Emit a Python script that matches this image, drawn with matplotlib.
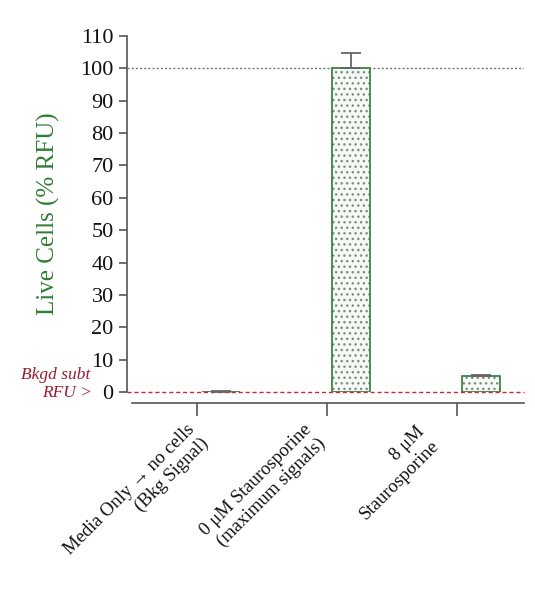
import numpy as np
import matplotlib
matplotlib.use('Agg')
import matplotlib.pyplot as plt
from matplotlib.transforms import offset_copy

plt.rcParams['font.family'] = ['Liberation Serif', 'DejaVu Serif']
plt.rcParams['hatch.linewidth'] = 1.0

labels = ['Media Only \u2192 no cells\n(Bkg Signal)',
          '0 \u03bcM Staurosporine\n(maximum signals)',
          '8 \u03bcM\nStaurosporine']
values = [0.1, 100.0, 4.9]
errors = [0.2, 4.8, 0.4]

green = '#2f7d32'
axis_gray = '#555555'

fig = plt.figure(figsize=(5.35, 6), dpi=100)
ax = fig.add_axes([0.237, 0.3467, 0.743, 0.5933])

# spines first: set_position resets the ticks
for s in ['top', 'right']:
    ax.spines[s].set_visible(False)
ax.spines['left'].set_color(axis_gray)
ax.spines['left'].set_linewidth(1.2)
ax.spines['bottom'].set_color(axis_gray)
ax.spines['bottom'].set_linewidth(1.2)
ax.spines['bottom'].set_position(('outward', 8))

x = np.arange(len(labels))
bx = x + 0.185
w = 0.29

# hatch layer, then outline
ax.bar(bx, values, width=w, color='#f4faf4', edgecolor='#888888', linewidth=0, hatch='...', zorder=2)
ax.bar(bx, values, width=w, fill=False, edgecolor=green, linewidth=1.2, zorder=3)
ax.errorbar(bx, values, yerr=[[0] * len(values), errors], fmt='none', ecolor='#666666',
            elinewidth=1.3, capsize=7, capthick=1.3, zorder=6)

ax.axhline(100, color='#777777', linestyle=(0, (1.5, 1.5)), lw=1.0, zorder=1)
ax.axhline(0, color='#c0303c', linestyle=(0, (3, 2)), lw=1.0, zorder=5, clip_on=False)

ax.set_xlim(-0.538, 2.515)
ax.set_ylim(0, 110)
ax.spines['bottom'].set_bounds(-0.5, 2.515)
ax.set_yticks(np.arange(0, 111, 10))
ax.set_xticks(x)
ax.tick_params(axis='y', labelsize=16, colors=axis_gray, labelcolor='#111111', length=6, width=1.2)
ax.tick_params(axis='x', colors=axis_gray, labelcolor='#111111', length=9, width=1.2, pad=6)
ax.set_xticklabels(labels, fontsize=13.5, color='#111111', rotation=45, ha='right', va='top',
                   rotation_mode='anchor', multialignment='right')
# the labels sit a little left of their ticks, more so for the shorter ones
shifts = [(-11, 3), (-24, 3), (-41, 1)]
for t, (dx, dy) in zip(ax.get_xticklabels(), shifts):
    t.set_transform(offset_copy(t.get_transform(), fig=fig, x=dx, y=dy, units='dots'))

ax.set_ylabel('Live Cells (% RFU)', fontsize=18, color=green)
ax.yaxis.set_label_coords(-0.169, 0.5)

fig.text(90 / 535, 1 - 375 / 600, 'Bkgd subt', style='italic', color='#9b1b30', fontsize=12.5,
         ha='right', va='center')
fig.text(92 / 535, 1 - 393 / 600, 'RFU >', style='italic', color='#9b1b30', fontsize=12.5,
         ha='right', va='center')

fig.savefig('out.png', dpi=100)
